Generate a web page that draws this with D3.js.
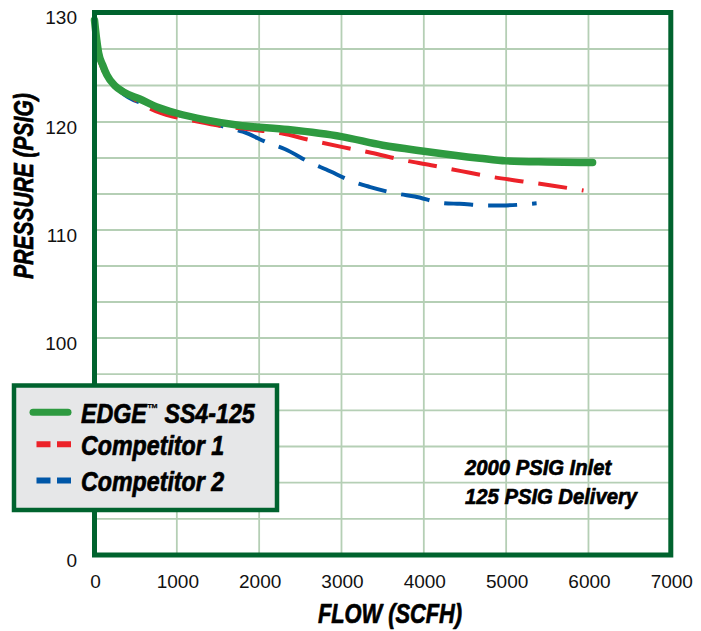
<!DOCTYPE html>
<html>
<head>
<meta charset="utf-8">
<script src="https://cdn.jsdelivr.net/npm/d3@7/dist/d3.min.js"></script>
<style>
  html, body { margin: 0; padding: 0; background: #ffffff; }
  svg { display: block; }
  .cond { font-family: "Liberation Sans", Arial, Helvetica, sans-serif; font-weight: bold; font-style: italic; fill: #000; stroke: #000; stroke-width: 0.7px; stroke-linejoin: round; }
  .tick { font-family: "Liberation Sans", Arial, sans-serif; font-size: 19px; fill: #111; }
</style>
</head>
<body>
<svg id="chart" width="701" height="631"></svg>
<script>
// ---------- data ----------
const flowTicks = [0, 1000, 2000, 3000, 4000, 5000, 6000, 7000];
const pressureTicks = [0, 100, 110, 120, 130];

const edgeFlow     = [0,     25,    50,    100,   150,   250,   350,    550,   750,   1000,  1350,  1750,  2350,  3000,   3500,   4000,  4680,   5000,  5500,  6050];
const edgePressure = [129.3, 127.6, 126.3, 125.2, 124.3, 123.3, 122.75, 122.1, 121.4, 120.8, 120.2, 119.7, 119.3, 118.65, 117.85, 117.3, 116.65, 116.4, 116.3, 116.25];

const comp1Flow     = [0,     100,   300,   460,   630,   950,   1150,  1520,   1900,  2270,   2630,  3000,  3360,   3730,  4090,  4455,   4840,  5200,  5570,  5940];
const comp1Pressure = [127.0, 124.8, 123.0, 122.2, 121.4, 120.5, 120.2, 119.65, 119.3, 118.95, 118.3, 117.7, 117.15, 116.5, 116.0, 115.45, 114.9, 114.5, 114.1, 113.65];

const comp2Flow     = [0,     100,   300,   700,   1060,   1300,  1560,  1800,  2130,  2310,  2630,  2815,  3150,   3340,  3685,   3890,  4230,  4435,   4800,   5000,   5370];
const comp2Pressure = [126.8, 125.0, 122.9, 121.4, 120.55, 120.1, 119.6, 119.1, 118.0, 117.5, 116.2, 115.6, 114.45, 114.0, 113.35, 113.1, 112.5, 112.42, 112.26, 112.28, 112.47];

const seriesNames = ["EDGE\u2122 SS4-125", "Competitor 1", "Competitor 2"];
const seriesColors = ["#2e9a40", "#ec2229", "#0057a8"];
const notes = ["2000 PSIG Inlet", "125 PSIG Delivery"];

// ---------- layout ----------
const svg = d3.select("#chart");
const pL = 94.5, pR = 670.8, pT = 12.5, pB = 555;
const frameColor = "#00632e";
const gridColor = "#b5cfb5";

const x = d3.scaleLinear().domain([0, 7000]).range([pL, pR]);
// broken axis: 0-100 compressed, 100-130 expanded
const y = d3.scaleLinear().domain([0, 100, 120, 130]).range([pB, 338, 122, pT]);

// grid lines
const gridX = d3.range(1000, 7000, 1000);
const gridY = d3.range(1, 6).map(i => i * 100 / 6).concat(d3.range(0, 9).map(i => 100 + i * 10 / 3));

const g = svg.append("g");
g.selectAll("line.gx").data(gridX).join("line")
  .attr("x1", d => x(d)).attr("x2", d => x(d))
  .attr("y1", pT).attr("y2", pB)
  .attr("stroke", gridColor).attr("stroke-width", 1.8);
g.selectAll("line.gy").data(gridY).join("line")
  .attr("x1", pL).attr("x2", pR)
  .attr("y1", d => y(d)).attr("y2", d => y(d))
  .attr("stroke", gridColor).attr("stroke-width", 1.8);

// lines
const line = d3.line().x(d => x(d[0])).y(d => y(d[1])).curve(d3.curveMonotoneX);
const zip = (a, b) => a.map((v, i) => [v, b[i]]);

g.append("path").datum(zip(comp2Flow, comp2Pressure))
  .attr("d", line).attr("fill", "none")
  .attr("stroke", seriesColors[2]).attr("stroke-width", 4)
  .attr("stroke-dasharray", "29 15");
g.append("path").datum(zip(comp1Flow, comp1Pressure))
  .attr("d", line).attr("fill", "none")
  .attr("stroke", seriesColors[1]).attr("stroke-width", 4)
  .attr("stroke-dasharray", "29 15");
g.append("path").datum(zip(edgeFlow, edgePressure))
  .attr("d", line).attr("fill", "none")
  .attr("stroke", seriesColors[0]).attr("stroke-width", 7.5)
  .attr("stroke-linecap", "round");

// frame
svg.append("rect")
  .attr("x", pL).attr("y", pT)
  .attr("width", pR - pL).attr("height", pB - pT)
  .attr("fill", "none").attr("stroke", frameColor).attr("stroke-width", 5);

// tick labels
svg.selectAll("text.xt").data(flowTicks).join("text")
  .attr("class", "tick")
  .attr("x", d => x(d) + 1).attr("y", 588)
  .attr("text-anchor", "middle")
  .text(d => d);
svg.selectAll("text.yt").data(pressureTicks).join("text")
  .attr("class", "tick")
  .attr("x", 77).attr("y", d => y(d) + 5)
  .attr("dy", "0.35em")
  .attr("text-anchor", "end")
  .text(d => d);

// condensed bold-italic text helper (horizontal squeeze)
function condText(parent, tx, ty, size, sx, str, anchor, rot) {
  const t = parent.append("text").attr("class", "cond")
    .attr("transform", `translate(${tx},${ty})` + (rot ? ` rotate(${rot})` : "") + ` scale(${sx},1)`)
    .attr("font-size", size)
    .attr("text-anchor", anchor || "start");
  return t.text(str);
}

// axis titles
condText(svg, 390, 623, 28, 0.78, "FLOW (SCFH)", "middle");
condText(svg, 33, 186, 28, 0.75, "PRESSURE (PSIG)", "middle", -90);

// notes
notes.forEach((n, i) => condText(svg, 465, 475 + i * 28.5, 22.5, 0.9, n));

// legend
const lg = svg.append("g");
lg.append("rect")
  .attr("x", 14).attr("y", 385.5).attr("width", 263).attr("height", 124.5)
  .attr("fill", "#e6e7e8").attr("stroke", frameColor).attr("stroke-width", 4.5);
const rowY = [412.3, 444.3, 480.5];
lg.append("line")
  .attr("x1", 33).attr("x2", 68).attr("y1", rowY[0]).attr("y2", rowY[0])
  .attr("stroke", seriesColors[0]).attr("stroke-width", 7).attr("stroke-linecap", "round");
[1, 2].forEach(i => {
  lg.append("line")
    .attr("x1", 36.5).attr("x2", 71).attr("y1", rowY[i]).attr("y2", rowY[i])
    .attr("stroke", seriesColors[i]).attr("stroke-width", 6)
    .attr("stroke-dasharray", "14 6.5");
});
const textY = [423, 455, 491];
seriesNames.forEach((name, i) => {
  const t = condText(lg, 81, textY[i], 27, 0.86, "");
  if (name.includes("\u2122")) {
    const parts = name.split("\u2122");
    t.append("tspan").text(parts[0]);
    t.append("tspan").attr("font-size", 13).attr("dy", -10).attr("stroke-width", 0.3).text("\u2122");
    t.append("tspan").attr("dy", 10).text(parts[1]);
  } else {
    t.text(name);
  }
});
</script>
</body>
</html>
